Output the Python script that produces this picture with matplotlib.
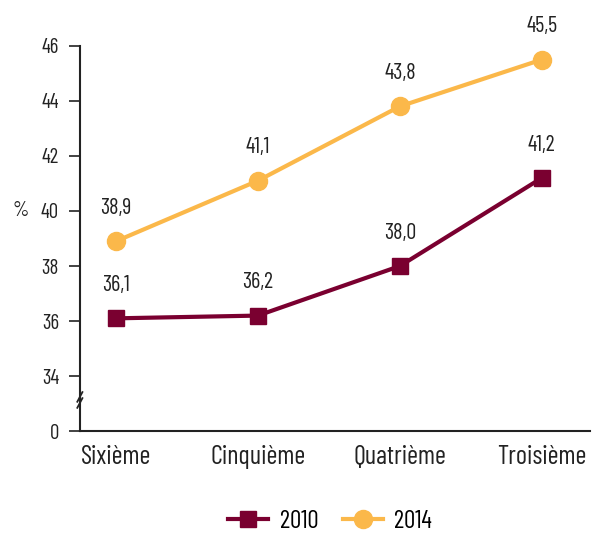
import matplotlib
matplotlib.use("Agg")
import matplotlib.pyplot as plt
from matplotlib.lines import Line2D

categories = ["Sixième", "Cinquième", "Quatrième", "Troisième"]
values_2010 = [36.1, 36.2, 38.0, 41.2]
values_2014 = [38.9, 41.1, 43.8, 45.5]
labels_2010 = ["36,1", "36,2", "38,0", "41,2"]
labels_2014 = ["38,9", "41,1", "43,8", "45,5"]
ytick_vals = [32, 34, 36, 38, 40, 42, 44, 46]
ytick_labels = ["0", "34", "36", "38", "40", "42", "44", "46"]

plt.rcParams['font.family'] = ['Barlow Condensed', 'DejaVu Sans']

c2010 = "#7a0030"
c2014 = "#fbb84a"
tc = "#222222"

fig = plt.figure(figsize=(5.96, 5.33), dpi=100)
ax = fig.add_axes([0.134, 0.191, 0.856, 0.723])
x = list(range(len(categories)))

ax.plot(x, values_2010, color=c2010, lw=3, marker="s", markersize=11.5, zorder=3)
ax.plot(x, values_2014, color=c2014, lw=3, marker="o", markersize=13, zorder=3)

for xi, v, l in zip(x, values_2010, labels_2010):
    ax.annotate(l, (xi, v), xytext=(0, 16), textcoords="offset points",
                ha="center", va="bottom", fontsize=16, color=tc)
for xi, v, l in zip(x, values_2014, labels_2014):
    ax.annotate(l, (xi, v), xytext=(0, 16), textcoords="offset points",
                ha="center", va="bottom", fontsize=16, color=tc)

ax.set_xlim(-0.254, 3.34)
ax.set_ylim(32, 46)
ax.set_yticks(ytick_vals)
ax.set_yticklabels(ytick_labels, fontsize=15, color=tc)
ax.set_xticks(x)
ax.set_xticklabels(categories, fontsize=19, color=tc)
ax.tick_params(axis="x", length=0, pad=10)
ax.tick_params(axis="y", length=8, width=1.2, pad=7, color=tc)
for s in ["top", "right"]:
    ax.spines[s].set_visible(False)
for s in ["left", "bottom"]:
    ax.spines[s].set_linewidth(1.5)
    ax.spines[s].set_color(tc)

# axis break marks
for dy in (0.0, 0.22):
    ax.plot([-0.272, -0.236], [32.85 + dy, 33.2 + dy], color=tc,
            lw=1.3, clip_on=False, zorder=4)

fig.text(0.034, ax.transData.transform((0, 40))[1] / fig.bbox.height, "%",
         fontsize=15, ha="center", va="center", color=tc)

handles = [Line2D([0], [0], color=c2010, lw=3, marker="s", markersize=11.5),
           Line2D([0], [0], color=c2014, lw=3, marker="o", markersize=13)]
fig.legend(handles, ["2010", "2014"], loc="center", bbox_to_anchor=(0.554, 0.022),
           ncol=2, frameon=False, fontsize=18, handlelength=1.6,
           columnspacing=1.0, handletextpad=0.45)

fig.savefig("out.png", dpi=100)
